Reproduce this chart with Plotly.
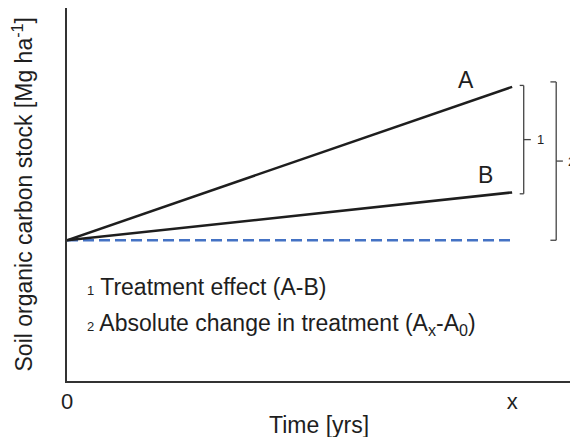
import plotly.graph_objects as go

time = [0, 10]
treat_A = [10, 20.9]
treat_B = [10, 13.4]
baseline = [10, 10]
tick_vals = [0, 10]
tick_text = ["0", "x"]

FONT = "Liberation Sans, Arial, sans-serif"
dark = "#1e1e1e"

fig = go.Figure()
fig.add_trace(go.Scatter(x=time, y=baseline, mode="lines", cliponaxis=False,
                         line=dict(color="#4472C4", width=2.7, dash="11px,5px"), showlegend=False))
fig.add_trace(go.Scatter(x=time, y=treat_A, mode="lines", cliponaxis=False,
                         line=dict(color=dark, width=2.5), showlegend=False))
fig.add_trace(go.Scatter(x=time, y=treat_B, mode="lines", cliponaxis=False,
                         line=dict(color=dark, width=2.5), showlegend=False))

xe = time[-1]
a_end, b_end, base = treat_A[-1], treat_B[-1], baseline[-1]
bcol = "#444444"
shapes = []
def bracket(xv, y0, y1, tick_l=0.09, tick_r=0.16):
    kw = dict(line=dict(color=bcol, width=1.3))
    shapes.append(dict(type="line", x0=xv, x1=xv, y0=y0, y1=y1, **kw))
    shapes.append(dict(type="line", x0=xv - tick_l, x1=xv, y0=y0, y1=y0, **kw))
    shapes.append(dict(type="line", x0=xv - tick_l, x1=xv, y0=y1, y1=y1, **kw))
    ym = (y0 + y1) / 2
    shapes.append(dict(type="line", x0=xv, x1=xv + tick_r, y0=ym, y1=ym, **kw))
    return ym

ym1 = bracket(xe + 0.26, b_end - 0.1, a_end + 0.1)
ym2 = bracket(xe + 0.99, base, a_end + 0.35, tick_l=0.13, tick_r=0.15)

big = dict(size=23, color=dark, family=FONT)
annotations = [
    dict(x=xe - 1.03, y=a_end + 0.45, text="A", showarrow=False, xanchor="center", yanchor="middle", font=big),
    dict(x=xe - 0.6, y=b_end + 1.23, text="B", showarrow=False, xanchor="center", yanchor="middle", font=big),
    dict(x=xe + 0.52, y=ym1, text="1", showarrow=False, xanchor="left", yanchor="middle",
         font=dict(size=13, color=dark, family=FONT)),
    dict(x=xe + 1.22, y=ym2, text="2", showarrow=False, xanchor="left", yanchor="middle",
         font=dict(size=13, color=dark, family=FONT)),
    dict(x=0.4, y=6.7, text="<span style='font-size:13px'>1</span> Treatment effect (A-B)",
         showarrow=False, xanchor="left", yanchor="middle", font=big),
    dict(x=0.4, y=4.0, text="<span style='font-size:13px'>2</span> Absolute change in treatment (A<sub>x</sub>-A<sub>0</sub>)",
         showarrow=False, xanchor="left", yanchor="middle", font=big),
    dict(xref="paper", yref="paper", x=0.5, y=0, yshift=-44, text="Time [yrs]", showarrow=False,
         xanchor="center", yanchor="middle", font=big),
    dict(xref="paper", yref="paper", x=0, y=0.5, xshift=-45, textangle=-90,
         text="Soil organic carbon stock [Mg ha<sup>-1</sup>]", showarrow=False,
         xanchor="center", yanchor="middle", font=big),
]

fig.update_layout(
    width=570, height=437,
    margin=dict(l=67, r=0, t=8, b=56, autoexpand=False),
    paper_bgcolor="white", plot_bgcolor="white",
    shapes=shapes, annotations=annotations,
    font=dict(family=FONT, color=dark),
    xaxis=dict(range=[0, 11.3], showgrid=False, zeroline=False, showline=True, linecolor="#333333",
               linewidth=2, tickvals=tick_vals, ticktext=tick_text, ticks="", automargin=False,
               tickfont=dict(size=22, color=dark)),
    yaxis=dict(range=[0, 26.5], showgrid=False, zeroline=False, showline=True, linecolor="#333333",
               linewidth=2, showticklabels=False, ticks="", automargin=False),
)

fig.write_html("out.html", config={"displayModeBar": False},
               post_script="document.body.style.margin='0';document.body.style.overflow='hidden';")
